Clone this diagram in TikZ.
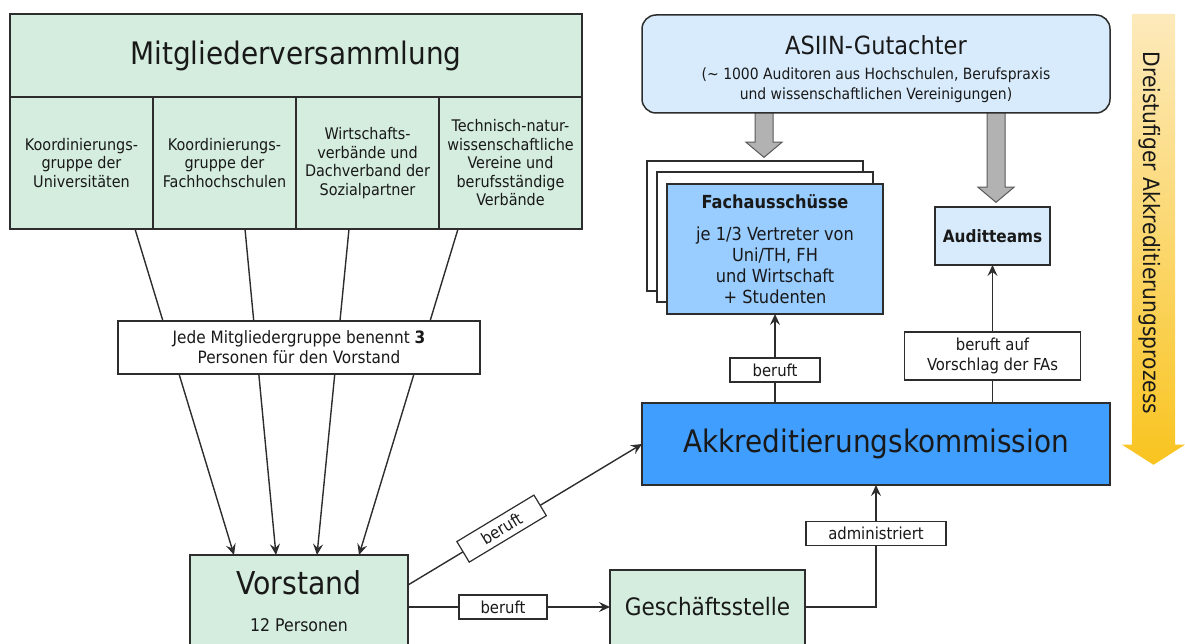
\documentclass[tikz,border=0pt]{standalone}
\usepackage{fontspec}
\setmainfont{DejaVu Sans Condensed}
\usepackage{tikz}
\usetikzlibrary{shapes.geometric, shapes.arrows, arrows, arrows.meta, positioning, calc}
\definecolor{mint}{RGB}{212,237,222}
\definecolor{akblau}{RGB}{64,158,255}
\definecolor{fablau}{RGB}{153,204,255}
\definecolor{hellblau}{RGB}{216,235,252}
\definecolor{rand}{RGB}{45,45,45}
\definecolor{schrift}{RGB}{25,25,25}
\definecolor{pfeilgrau}{RGB}{178,178,178}
\definecolor{gelbhell}{RGB}{253,234,188}
\definecolor{gelbdunkel}{RGB}{249,196,32}
\tikzstyle{gruen} = [rectangle, minimum width=143pt, minimum height=132pt, text centered, align=center, draw=rand, fill=mint, line width=1.5pt, outer sep=0pt, text=schrift, font=\fontsize{16}{18.5}\selectfont]
\tikzstyle{weiss} = [rectangle, text centered, align=center, draw=rand, fill=white, line width=1.3pt, text=schrift, font=\fontsize{17}{20}\selectfont]
\tikzstyle{blau} = [rectangle, text centered, align=center, draw=rand, line width=1.5pt, outer sep=0pt, text=schrift]
\tikzstyle{marke} = [rectangle, text centered, align=center, draw=rand, fill=white, line width=1.2pt, inner sep=1pt, minimum height=24pt, text=schrift, font=\fontsize{16.5}{20}\selectfont]
\tikzstyle{pfeil} = [-{Stealth[length=11pt, width=10pt, inset=4pt]}, line width=1.4pt, draw=rand]
\tikzstyle{dick} = [single arrow, shape border rotate=270, draw=black!65, fill=pfeilgrau, line width=1pt, inner sep=8.5pt, minimum width=35pt, single arrow head extend=9pt, single arrow tip angle=100, anchor=tip]
\tikzstyle{prozess} = [single arrow, shape border rotate=270, top color=gelbhell, bottom color=gelbdunkel, draw=none, inner sep=21.5pt, minimum width=63pt, minimum height=451pt, single arrow head extend=10pt, single arrow tip angle=115, anchor=tip]

\begin{document}
\begin{tikzpicture}[x=1pt, y=-1pt]
\useasboundingbox (0,0) rectangle (1185,644);
\clip (0,0) rectangle (1185,644);
%定义左侧具体形状
\node[gruen, minimum width=572pt, minimum height=83pt, font=\fontsize{31}{36}\selectfont](mv) at (296,55.5){Mitgliederversammlung};
\node[gruen, anchor=north west](k1) at (mv.south west){Koordinierungs-\\gruppe der\\Universitäten};
\node[gruen, right=0pt of k1](k2){Koordinierungs-\\gruppe der\\Fachhochschulen};
\node[gruen, right=0pt of k2](k3){Wirtschafts-\\verbände und\\Dachverband der\\Sozialpartner};
\node[gruen, right=0pt of k3](k4){Technisch-natur-\\wissenschaftliche\\Vereine und\\berufsständige\\Verbände};
\node[gruen, minimum width=218pt, minimum height=120pt, anchor=north](vorstand) at (299,555){};
\node[text=schrift, font=\fontsize{31.5}{36}\selectfont](vname) at (299,583){Vorstand};
\node[text=schrift, font=\fontsize{17.5}{20}\selectfont](vpers) at (299,625){12 Personen};
\coordinate (o1) at (135,229);
\coordinate (o2) at (245,229);
\coordinate (o3) at (349,229);
\coordinate (o4) at (458,229);
\coordinate (u1) at (234,555);
\coordinate (u2) at (276,555);
\coordinate (u3) at (317,555);
\coordinate (u4) at (359,555);
\foreach \i in {1,...,4}
  \draw [pfeil] (o\i) -- (u\i);
\node[weiss, minimum width=362pt, minimum height=53pt](jede) at (299,347.5){Jede Mitgliedergruppe benennt \textbf{3}\\Personen für den Vorstand};
%定义右侧具体形状
\node[dick, minimum height=47pt](g1) at (764,158){};
\node[dick, minimum height=92pt](g2) at (996,203){};
\node[blau, fill=hellblau, rounded corners=14pt, minimum width=468pt, minimum height=98pt](asiin) at (876,64){};
\node[text=schrift, font=\fontsize{25}{28}\selectfont](atitel) at (876,45){ASIIN-Gutachter};
\node[text=schrift, align=center, font=\fontsize{15.5}{20}\selectfont](atext) at (876,85){(\textasciitilde{} 1000 Auditoren aus Hochschulen, Berufspraxis\\und wissenschaftlichen Vereinigungen)};
\node[blau, fill=white, minimum width=216pt, minimum height=130pt](fa3) at (755,226){};
\node[blau, fill=white, minimum width=216pt, minimum height=130pt](fa2) at (765,237){};
\node[blau, fill=fablau, minimum width=216pt, minimum height=130pt, font=\fontsize{18}{21}\selectfont](fa) at (775,249){\textbf{Fachausschüsse}\\[11pt]je 1/3 Vertreter von\\Uni/TH, FH\\und Wirtschaft\\+ Studenten};
\node[blau, fill=hellblau, minimum width=115pt, minimum height=58pt, font=\bfseries\fontsize{17}{20}\selectfont](audit) at (992.5,236){Auditteams};
\node[blau, fill=akblau, minimum width=468pt, minimum height=82pt, font=\fontsize{31}{36}\selectfont](ak) at (876,444){Akkreditierungskommission};
\node[gruen, minimum width=195pt, minimum height=110pt, anchor=north west](gs) at (610,570){};
\node[text=schrift, font=\fontsize{24}{28}\selectfont](gsname) at (707.5,607){Geschäftsstelle};
\node[prozess](proz) at (1153.5,465){};
\node[rotate=-90, text=schrift, font=\fontsize{22.5}{26}\selectfont](ptext) at (1150,233){Dreistufiger Akkreditierungsprozess};
%连接具体形状
\draw [pfeil] (ak.north -| fa.south) -- node[marke, pos=0.37, minimum width=90pt](lb1){beruft} (fa.south);
\draw [pfeil] (ak.north -| audit.south) -- node[marke, pos=0.34, minimum width=176pt, minimum height=48pt](lb2){beruft auf\\Vorschlag der FAs} (audit.south);
\draw [pfeil] (vorstand.east |- gsname) -- node[marke, pos=0.47, minimum width=88pt](lb3){beruft} (gs.west |- gsname);
\draw [pfeil] ($(vorstand.north east)+(0,30)$) -- node[marke, sloped, pos=0.4, minimum width=90pt](lb4){beruft} (ak.west);
\draw [pfeil] (gs.east |- gsname) -| node[marke, pos=0.8, minimum width=140pt](lb5){administriert} (ak.south);
\end{tikzpicture}
\end{document}
